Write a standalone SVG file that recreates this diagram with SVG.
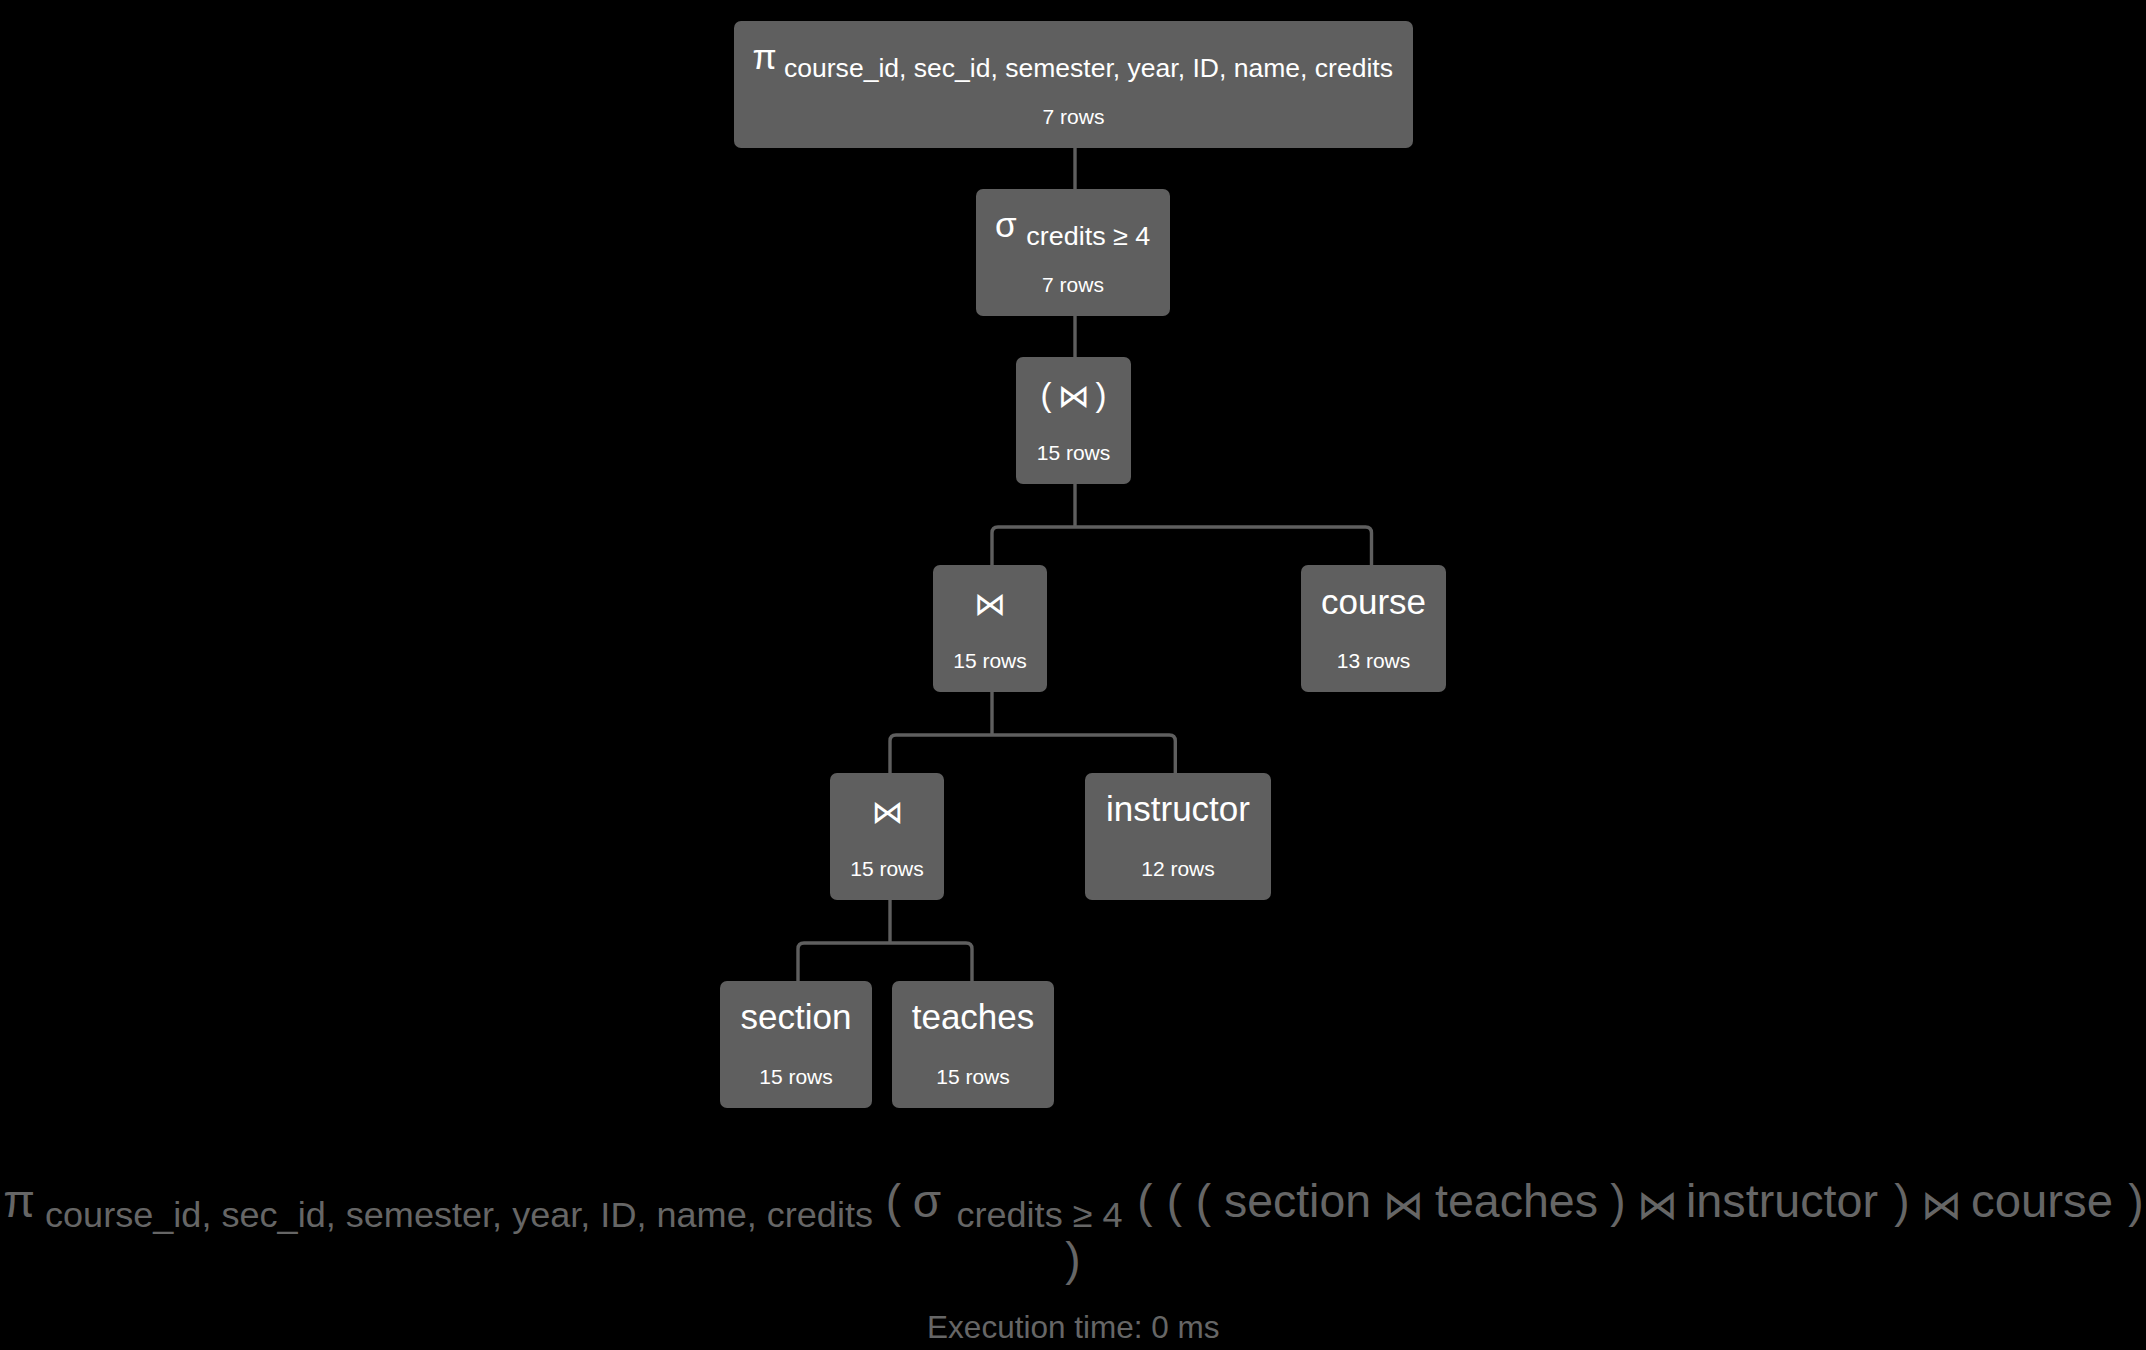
<svg xmlns="http://www.w3.org/2000/svg" width="2146" height="1350" viewBox="0 0 2146 1350">
<style>
.bg{fill:#000}
.box{fill:#5f5f5f}
.t{font-family:"Liberation Sans",Arial,Helvetica,sans-serif;fill:#fff}
.main{font-size:35px}
.sub{font-size:26.3px}
.rows{font-size:21px;text-anchor:middle}
.mid{text-anchor:middle}
.bt{font-family:"DejaVu Sans","Noto Sans",sans-serif}
.conn{fill:none;stroke:#5f5f5f;stroke-width:3.4}
.e{font-family:"Liberation Sans",Arial,Helvetica,sans-serif;fill:#666}
.em{font-size:46px}
.es{font-size:35.5px}
.ex{font-size:31.5px;text-anchor:middle}
</style>
<rect class="bg" x="0" y="0" width="2146" height="1350"/>

<g id="connectors">
<path class="conn" d="M1075,148 V189"/>
<path class="conn" d="M1075,316 V357"/>
<path class="conn" d="M1075,484 V527"/>
<path class="conn" d="M992,565 V533 Q992,527 998,527 H1365.5 Q1371.5,527 1371.5,533 V565"/>
<path class="conn" d="M992,692 V735"/>
<path class="conn" d="M890,773 V741 Q890,735 896,735 H1169.3 Q1175.3,735 1175.3,741 V773"/>
<path class="conn" d="M890,900 V943"/>
<path class="conn" d="M798,981 V949 Q798,943 804,943 H966 Q972,943 972,949 V981"/>
</g>

<g id="n-project">
<rect class="box" x="734" y="21" width="679" height="127" rx="7"/>
<text class="t main mid" x="764.5" y="69">π</text>
<text class="t sub" x="784" y="77" textLength="609" lengthAdjust="spacingAndGlyphs">course_id, sec_id, semester, year, ID, name, credits</text>
<text class="t rows" x="1073.5" y="124">7 rows</text>
</g>

<g id="n-select">
<rect class="box" x="976" y="189" width="194" height="127" rx="7"/>
<text class="t main mid" x="1005.7" y="237">σ</text>
<text class="t sub" x="1026.3" y="245" textLength="124" lengthAdjust="spacingAndGlyphs">credits ≥ 4</text>
<text class="t rows" x="1073" y="292">7 rows</text>
</g>

<g id="n-join-top">
<rect class="box" x="1016" y="357" width="115" height="127" rx="7"/>
<text class="t mid" font-size="33" x="1046" y="406">(</text>
<text class="t bt mid" font-size="32" x="1073.7" y="406.5">⋈</text>
<text class="t mid" font-size="33" x="1101" y="406">)</text>
<text class="t rows" x="1073.5" y="460">15 rows</text>
</g>

<g id="n-join-mid">
<rect class="box" x="933" y="565" width="114" height="127" rx="7"/>
<text class="t bt mid" font-size="32" x="990" y="614.5">⋈</text>
<text class="t rows" x="990" y="668">15 rows</text>
</g>

<g id="n-course">
<rect class="box" x="1301" y="565" width="145" height="127" rx="7"/>
<text class="t main mid" x="1373.5" y="614">course</text>
<text class="t rows" x="1373.5" y="668">13 rows</text>
</g>

<g id="n-join-low">
<rect class="box" x="830" y="773" width="114" height="127" rx="7"/>
<text class="t bt mid" font-size="32" x="887.5" y="822.5">⋈</text>
<text class="t rows" x="887" y="876">15 rows</text>
</g>

<g id="n-instructor">
<rect class="box" x="1085" y="773" width="186" height="127" rx="7"/>
<text class="t main mid" x="1178" y="821">instructor</text>
<text class="t rows" x="1178" y="876">12 rows</text>
</g>

<g id="n-section">
<rect class="box" x="720" y="981" width="152" height="127" rx="7"/>
<text class="t main mid" x="796" y="1029">section</text>
<text class="t rows" x="796" y="1084">15 rows</text>
</g>

<g id="n-teaches">
<rect class="box" x="892" y="981" width="162" height="127" rx="7"/>
<text class="t main mid" x="973" y="1029">teaches</text>
<text class="t rows" x="973" y="1084">15 rows</text>
</g>

<g id="expression">
<text class="e em mid" x="19" y="1216.5">π</text>
<text class="e es" x="45" y="1226.7" textLength="828" lengthAdjust="spacingAndGlyphs">course_id, sec_id, semester, year, ID, name, credits</text>
<text class="e em mid" x="893.5" y="1216.5">(</text>
<text class="e em mid" x="927" y="1216.5">σ</text>
<text class="e es" x="956.5" y="1226.7" textLength="166" lengthAdjust="spacingAndGlyphs">credits ≥ 4</text>
<text class="e em mid" x="1145" y="1216.5">(</text>
<text class="e em mid" x="1174.5" y="1216.5">(</text>
<text class="e em mid" x="1203.5" y="1216.5">(</text>
<text class="e em" x="1224" y="1216.5" textLength="147" lengthAdjust="spacingAndGlyphs">section</text>
<text class="e bt mid" font-size="41" x="1403.5" y="1219">⋈</text>
<text class="e em" x="1435" y="1216.5" textLength="163" lengthAdjust="spacingAndGlyphs">teaches</text>
<text class="e em mid" x="1618" y="1216.5">)</text>
<text class="e bt mid" font-size="41" x="1657.7" y="1219">⋈</text>
<text class="e em" x="1686" y="1216.5" textLength="192" lengthAdjust="spacingAndGlyphs">instructor</text>
<text class="e em mid" x="1902" y="1216.5">)</text>
<text class="e bt mid" font-size="41" x="1941.7" y="1219">⋈</text>
<text class="e em" x="1971" y="1216.5" textLength="142" lengthAdjust="spacingAndGlyphs">course</text>
<text class="e em mid" x="2136" y="1216.5">)</text>
<text class="e em mid" x="1073" y="1275">)</text>
</g>

<g id="exec-time">
<text class="e ex" x="1073.3" y="1338.3">Execution time: 0 ms</text>
</g>
</svg>
